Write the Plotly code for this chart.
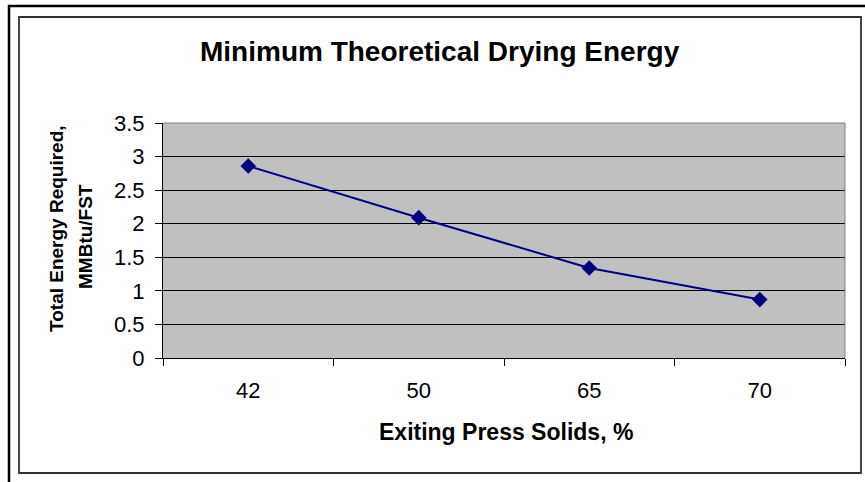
import plotly.graph_objects as go

# Drying energy vs. press exit solids
solids_pct = ["42", "50", "65", "70"]
energy_mmbtu = [2.86, 2.09, 1.34, 0.87]
y_ticks = [0, 0.5, 1, 1.5, 2, 2.5, 3, 3.5]
y_tick_text = ["0", "0.5", "1", "1.5", "2", "2.5", "3", "3.5"]

W, H = 865, 482
# plot area in pixels
PL, PR, PT, PB = 163, 845, 123, 358


def px(x):
    return (x - PL) / (PR - PL)


def py(y):
    return (PB - y) / (PB - PT)


FONT = "Liberation Sans, Arial, sans-serif"

fig = go.Figure()
fig.add_trace(go.Scatter(
    x=solids_pct, y=energy_mmbtu, mode="lines+markers",
    line=dict(color="#000080", width=2),
    marker=dict(symbol="diamond", size=12, color="#000080"),
    showlegend=False, hoverinfo="x+y",
))

fig.update_layout(
    width=W, height=H,
    margin=dict(l=PL, r=W - PR, t=PT, b=H - PB),
    paper_bgcolor="white",
    plot_bgcolor="#C0C0C0",
    font=dict(family=FONT, color="black"),
    xaxis=dict(
        type="category", tickson="boundaries", range=[-0.5, 3.5],
        ticks="outside", ticklen=7, tickcolor="black", tickwidth=1,
        showline=True, linecolor="black", linewidth=1,
        showgrid=False, zeroline=False,
        tickfont=dict(size=22, family=FONT, color="black"),
        ticklabelstandoff=13,
    ),
    yaxis=dict(
        range=[0, 3.5], tickvals=y_ticks, ticktext=y_tick_text,
        ticks="outside", ticklen=7, tickcolor="black", tickwidth=1,
        showline=True, linecolor="black", linewidth=1,
        showgrid=True, gridcolor="black", gridwidth=1, zeroline=False,
        tickfont=dict(size=22, family=FONT, color="black"),
        ticklabelstandoff=6,
    ),
    shapes=[
        # outer frame (left/top edges)
        dict(type="rect", xref="paper", yref="paper",
             x0=px(9), x1=px(880), y0=py(495), y1=py(6),
             line=dict(color="black", width=2.5), layer="below"),
        # chart area frame
        dict(type="rect", xref="paper", yref="paper",
             x0=px(19), x1=px(861), y0=py(473), y1=py(17),
             line=dict(color="#333333", width=1.8), layer="below"),
        # plot area top/right border
        dict(type="line", xref="paper", yref="paper",
             x0=0, x1=1, y0=1, y1=1,
             line=dict(color="#808080", width=1), layer="above"),
        dict(type="line", xref="paper", yref="paper",
             x0=1, x1=1, y0=0, y1=1,
             line=dict(color="#808080", width=1), layer="above"),
    ],
    annotations=[
        dict(text="<b>Minimum Theoretical Drying Energy</b>",
             xref="paper", yref="paper", x=px(440), y=py(51),
             xanchor="center", yanchor="middle", showarrow=False,
             font=dict(size=28, family=FONT, color="black")),
        dict(text="<b>Exiting Press Solids, %</b>",
             xref="paper", yref="paper", x=px(506), y=py(432),
             xanchor="center", yanchor="middle", showarrow=False,
             font=dict(size=23, family=FONT, color="black")),
        dict(text="<b>Total Energy Required,</b>",
             xref="paper", yref="paper", x=px(56), y=py(229),
             xanchor="center", yanchor="middle", showarrow=False,
             textangle=-90,
             font=dict(size=19, family=FONT, color="black")),
        dict(text="<b>MMBtu/FST</b>",
             xref="paper", yref="paper", x=px(85), y=py(237),
             xanchor="center", yanchor="middle", showarrow=False,
             textangle=-90,
             font=dict(size=19, family=FONT, color="black")),
    ],
)

fig.write_html("out.html")
